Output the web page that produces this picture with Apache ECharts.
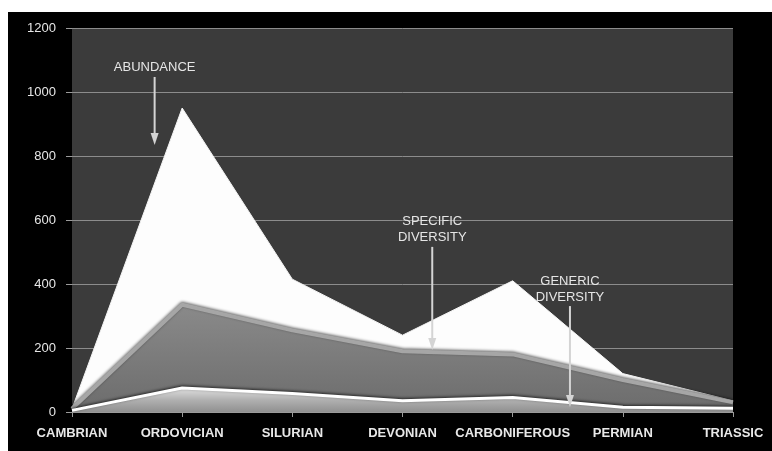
<!DOCTYPE html>
<html>
<head>
<meta charset="utf-8">
<script src="https://cdn.jsdelivr.net/npm/echarts@6/dist/echarts.min.js"></script>
<style>
html,body{margin:0;padding:0;background:#ffffff;width:772px;height:451px;overflow:hidden;}
#chart{position:absolute;left:8px;top:12px;width:764px;height:439px;background:#000;}
</style>
</head>
<body>
<div id="chart"></div>
<script>
const categories = ['CAMBRIAN','ORDOVICIAN','SILURIAN','DEVONIAN','CARBONIFEROUS','PERMIAN','TRIASSIC'];
const abundance = [10, 950, 415, 240, 410, 120, 35];
const specificDiversity = [10, 335, 255, 190, 180, 100, 30];
const genericDiversity = [5, 75, 58, 35, 45, 15, 12];
const yTicks = [0, 200, 400, 600, 800, 1000, 1200];

const annotationLabels = ['ABUNDANCE', 'SPECIFIC\nDIVERSITY', 'GENERIC\nDIVERSITY'];
const annotationX = [0.75, 3.27, 4.52];
const annotationTextY = [1078, 572, 384];
const annotationArrowTop = [1047, 516, 331];
const annotationArrowBottom = [834, 194, 16];

const chart = echarts.init(document.getElementById('chart'), null, {renderer: 'canvas'});
const font = "'Liberation Sans', Arial, sans-serif";

const option = {
  backgroundColor: '#000000',
  animation: false,
  grid: {left: 64, top: 16, right: 39, bottom: 39, show: true, backgroundColor: '#3b3b3b', borderWidth: 0},
  xAxis: {
    type: 'category', data: categories, boundaryGap: false,
    axisLine: {show: true, lineStyle: {color: '#9a9a9a', width: 1}},
    axisTick: {show: true, length: 5, interval: 0, lineStyle: {color: '#9a9a9a'}},
    axisLabel: {color: '#e8e8e8', fontSize: 13, fontWeight: 'bold', fontFamily: font, margin: 15, interval: 0},
    splitLine: {show: false}
  },
  yAxis: {
    type: 'value', min: yTicks[0], max: yTicks[yTicks.length - 1], interval: 200,
    axisLine: {show: false},
    axisTick: {show: true, length: 6, lineStyle: {color: '#9a9a9a'}},
    axisLabel: {color: '#e6e6e6', fontSize: 13, fontFamily: font, margin: 16, formatter: function (v) { return String(v); }},
    splitLine: {show: true, lineStyle: {color: '#8c8c8c', width: 1}}
  },
  series: [
    {
      name: 'Abundance', type: 'line', data: abundance, symbol: 'none', z: 2,
      lineStyle: {color: '#f4f4f4', width: 1},
      areaStyle: {color: '#fdfdfd', opacity: 1}
    },
    {
      name: 'Specific diversity', type: 'line', data: specificDiversity, symbol: 'none', z: 3,
      lineStyle: {color: '#a6a6a6', width: 4, shadowColor: 'rgba(0,0,0,0.6)', shadowBlur: 3, shadowOffsetY: -1},
      areaStyle: {opacity: 1, color: new echarts.graphic.LinearGradient(0, 0, 0, 1, [
        {offset: 0, color: '#8a8a8a'}, {offset: 1, color: '#6c6c6c'}])}
    },
    {
      name: 'Generic diversity', type: 'line', data: genericDiversity, symbol: 'none', z: 4,
      lineStyle: {color: '#ffffff', width: 3, shadowColor: 'rgba(0,0,0,0.7)', shadowBlur: 3, shadowOffsetY: -1},
      areaStyle: {opacity: 1, color: new echarts.graphic.LinearGradient(0, 0, 0, 1, [
        {offset: 0, color: '#e0e0e0'}, {offset: 0.5, color: '#b0b0b0'}, {offset: 1, color: '#909090'}])}
    }
  ]
};
chart.setOption(option);

function xPix(v) {
  const i0 = Math.floor(v), i1 = Math.min(i0 + 1, categories.length - 1);
  const p0 = chart.convertToPixel({xAxisIndex: 0}, i0);
  const p1 = chart.convertToPixel({xAxisIndex: 0}, i1);
  return p0 + (p1 - p0) * (v - i0);
}
function yPix(v) { return chart.convertToPixel({yAxisIndex: 0}, v); }

const graphics = [];
annotationLabels.forEach(function (label, k) {
  const x = xPix(annotationX[k]);
  const ty = yPix(annotationTextY[k]);
  const y1 = yPix(annotationArrowTop[k]);
  const y2 = yPix(annotationArrowBottom[k]);
  graphics.push({
    type: 'text', x: x, y: ty, z: 20,
    style: {text: label, fill: '#e6e6e6', font: '13px ' + font, align: 'center', verticalAlign: 'middle', lineHeight: 16}
  });
  graphics.push({
    type: 'line', z: 20, shape: {x1: x, y1: y1, x2: x, y2: y2 - 8},
    style: {stroke: '#d4d4d4', lineWidth: 2}
  });
  graphics.push({
    type: 'polygon', z: 20, shape: {points: [[x - 4, y2 - 12], [x + 4, y2 - 12], [x, y2]]},
    style: {fill: '#d4d4d4'}
  });
});
chart.setOption({graphic: graphics});
</script>
</body>
</html>
